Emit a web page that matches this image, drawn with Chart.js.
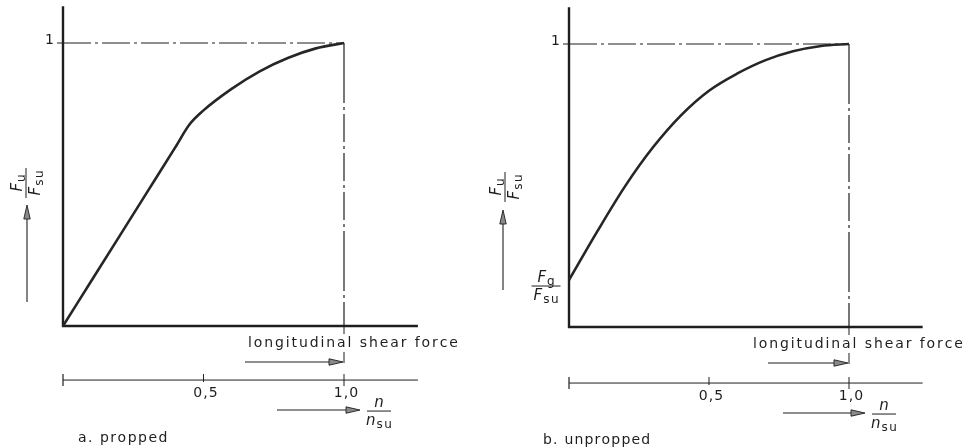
<!DOCTYPE html>
<html>
<head>
<meta charset="utf-8">
<script src="https://cdn.jsdelivr.net/npm/chart.js@4.4.1/dist/chart.umd.min.js"></script>
<style>
  html, body { margin: 0; padding: 0; background: #fff; }
  .panels { display: flex; width: 978px; height: 448px; }
  .panels canvas { display: block; }
</style>
</head>
<body>
<div class="panels">
  <canvas id="proppedChart" width="489" height="448"></canvas>
  <canvas id="unproppedChart" width="489" height="448"></canvas>
</div>
<script>
// Degree of shear connection n/nsu against relative moment resistance Fu/Fsu
const proppedX   = [0, 0.1, 0.2, 0.3, 0.4, 0.45, 0.5, 0.6, 0.7, 0.8, 0.9, 1.0];
const proppedY   = [0, 0.158, 0.316, 0.474, 0.632, 0.712, 0.762, 0.838, 0.9, 0.947, 0.981, 1.0];
const unproppedX = [0, 0.1, 0.2, 0.3, 0.4, 0.5, 0.6, 0.7, 0.8, 0.9, 1.0];
const unproppedY = [0.166, 0.336, 0.497, 0.635, 0.748, 0.835, 0.895, 0.942, 0.974, 0.993, 1.0];

// Lower scale for n/nsu
const shearTicks = [0.5, 1.0];
const shearTickLabels = ['0,5', '1,0'];
const yTickValue = 1;
const yTickLabel = '1';

const INK = '#1e1e1e';
const FONT = '"DejaVu Sans"';

// Where the origin and the unit point sit on each canvas
const panels = [
  {
    id: 'proppedChart', xs: proppedX, ys: proppedY, caption: 'a. propped',
    x0: 63, x1: 344, y0: 326, y1: 43,
    shearLevel: -0.191, captionDx: 15, captionY: 438, captionGap: 1.5,
    yLabelDx: -37, yLabelDy: -143, yArrowDx: -36, yArrowFrom: -24, yArrowTo: -121,
    upperArrowFrom: -99, lowerArrowFrom: -67, showFg: false
  },
  {
    id: 'unproppedChart', xs: unproppedX, ys: unproppedY, caption: 'b. unpropped',
    x0: 80, x1: 360, y0: 327, y1: 44,
    shearLevel: -0.198, captionDx: -26, captionY: 440, captionGap: 1.2,
    yLabelDx: -64, yLabelDy: -140, yArrowDx: -66, yArrowFrom: -37, yArrowTo: -117,
    upperArrowFrom: -81, lowerArrowFrom: -66, showFg: true
  }
];

function line(ctx, xa, ya, xb, yb, width, dash) {
  ctx.save();
  ctx.strokeStyle = INK;
  ctx.lineWidth = width;
  ctx.setLineDash(dash || []);
  ctx.beginPath();
  ctx.moveTo(xa, ya);
  ctx.lineTo(xb, yb);
  ctx.stroke();
  ctx.restore();
}

// Long slim arrow with a grey filled head
function arrow(ctx, xa, ya, xb, yb) {
  const ang = Math.atan2(yb - ya, xb - xa);
  const len = 14, half = 3.2;
  const bx = xb - Math.cos(ang) * len, by = yb - Math.sin(ang) * len;
  line(ctx, xa, ya, bx, by, 1.1);
  ctx.save();
  ctx.beginPath();
  ctx.moveTo(xb, yb);
  ctx.lineTo(bx + Math.sin(ang) * half, by - Math.cos(ang) * half);
  ctx.lineTo(bx - Math.sin(ang) * half, by + Math.cos(ang) * half);
  ctx.closePath();
  ctx.fillStyle = '#8a8a8a';
  ctx.fill();
  ctx.strokeStyle = INK;
  ctx.lineWidth = 0.9;
  ctx.stroke();
  ctx.restore();
}

// Width of a string drawn with extra space between letters
function spacedWidth(ctx, str, gap) {
  let w = 0;
  for (const ch of str) w += ctx.measureText(ch).width;
  return w + gap * (str.length - 1);
}

function spacedText(ctx, str, x, y, gap) {
  let cx = x;
  for (const ch of str) {
    ctx.fillText(ch, cx, y);
    cx += ctx.measureText(ch).width + gap;
  }
}

function text(ctx, str, x, y, size, align, gap, italic) {
  ctx.save();
  ctx.font = (italic ? 'italic ' : '') + size + 'px ' + FONT;
  ctx.fillStyle = INK;
  ctx.textAlign = 'left';
  ctx.textBaseline = 'middle';
  const w = spacedWidth(ctx, str, gap || 0);
  const left = align === 'center' ? x - w / 2 : align === 'right' ? x - w : x;
  spacedText(ctx, str, left, y, gap || 0);
  ctx.restore();
}

// Symbol with subscript, centred on cx, baseline at y
function subbed(ctx, main, sub, cx, y) {
  ctx.save();
  ctx.fillStyle = INK;
  ctx.textAlign = 'left';
  ctx.textBaseline = 'alphabetic';
  ctx.font = 'italic 15px ' + FONT;
  const wMain = ctx.measureText(main).width;
  ctx.font = '12px ' + FONT;
  const wSub = sub ? spacedWidth(ctx, sub, 1.5) + 1 : 0;
  const left = cx - (wMain + wSub) / 2;
  ctx.font = 'italic 15px ' + FONT;
  ctx.fillText(main, left, y);
  if (sub) {
    ctx.font = '12px ' + FONT;
    spacedText(ctx, sub, left + wMain + 1, y + 3, 1.5);
  }
  ctx.restore();
}

function fraction(ctx, cx, cy, top, topSub, bottom, bottomSub, barW) {
  subbed(ctx, top, topSub, cx, cy - 4);
  line(ctx, cx - barW / 2, cy, cx + barW / 2, cy, 1);
  subbed(ctx, bottom, bottomSub, cx, cy + 14);
}

const diagramPlugin = {
  id: 'diagram',
  beforeDatasetsDraw(chart) {
    const p = chart.options.plugins.diagram;
    const { ctx } = chart;
    const X = v => chart.scales.x.getPixelForValue(v);
    const Y = v => chart.scales.y.getPixelForValue(v);

    // main axes
    line(ctx, X(0), Y(0) + 1, X(0), Y(1.13), 2.4);
    line(ctx, X(0) - 1, Y(0), X(1.263), Y(0), 2.4);

    // limits at Fu/Fsu = 1 and n/nsu = 1
    line(ctx, X(0), Y(yTickValue), X(1), Y(yTickValue), 1, [28, 4, 3, 4]);
    line(ctx, X(1), Y(yTickValue), X(1), Y(0), 1.2, [60, 4, 3, 4, 28, 4, 3, 4, 28, 4, 3, 4, 28, 4, 3, 4]);
    line(ctx, X(1), Y(0), X(1), Y(0) + 37, 1, [8, 18, 12]);
    line(ctx, X(0) - 6, Y(yTickValue), X(0), Y(yTickValue), 1);

    // lower n/nsu scale
    const s = Y(p.shearLevel);
    line(ctx, X(0), s, X(1.263), s, 1);
    line(ctx, X(0), s - 6, X(0), s + 6, 1.2);
    shearTicks.forEach((t, i) => {
      line(ctx, X(t), s - 6, X(t), i === shearTicks.length - 1 ? s + 6 : s + 2, 1);
      text(ctx, shearTickLabels[i], X(t) + 2, s + 13, 14, 'center', 1);
    });
  },
  afterDatasetsDraw(chart) {
    const p = chart.options.plugins.diagram;
    const { ctx } = chart;
    const X = v => chart.scales.x.getPixelForValue(v);
    const Y = v => chart.scales.y.getPixelForValue(v);
    const s = Y(p.shearLevel);

    text(ctx, yTickLabel, X(0) - 9, Y(yTickValue) - 3, 14, 'right');

    text(ctx, 'longitudinal shear force', X(1) - 96, Y(0) + 17, 14, 'left', 1.9);
    arrow(ctx, X(1) + p.upperArrowFrom, Y(0) + 36, X(1) - 1, Y(0) + 36);

    arrow(ctx, X(1) + p.lowerArrowFrom, s + 30, X(1) + 16, s + 30);
    fraction(ctx, X(1) + 35, s + 31, 'n', '', 'n', 'su', 24);

    // vertical axis title, reading upwards
    ctx.save();
    ctx.translate(X(0) + p.yLabelDx, Y(0) + p.yLabelDy);
    ctx.rotate(-Math.PI / 2);
    fraction(ctx, 0, 0, 'F', 'u', 'F', 'su', 30);
    ctx.restore();
    arrow(ctx, X(0) + p.yArrowDx, Y(0) + p.yArrowFrom, X(0) + p.yArrowDx, Y(0) + p.yArrowTo);

    if (p.showFg) {
      fraction(ctx, X(0) - 23, Y(unproppedY[0]) + 6, 'F', 'g', 'F', 'su', 29);
    }

    text(ctx, p.caption, X(0) + p.captionDx, p.captionY, 14, 'left', p.captionGap);
  }
};

panels.forEach(p => {
  const canvas = document.getElementById(p.id);
  const W = canvas.width, H = canvas.height;
  const kx = p.x1 - p.x0, ky = p.y0 - p.y1;

  new Chart(canvas, {
    type: 'scatter',
    data: {
      datasets: [{
        data: p.xs.map((x, i) => ({ x, y: p.ys[i] })),
        showLine: true,
        borderColor: '#262626',
        borderWidth: 2.6,
        pointRadius: 0,
        cubicInterpolationMode: 'monotone',
        clip: false
      }]
    },
    options: {
      responsive: false,
      animation: false,
      devicePixelRatio: 1,
      layout: { padding: 0 },
      events: [],
      plugins: {
        legend: { display: false },
        tooltip: { enabled: false },
        diagram: p
      },
      scales: {
        x: { type: 'linear', display: false, min: -p.x0 / kx, max: (W - p.x0) / kx },
        y: { type: 'linear', display: false, min: -(H - p.y0) / ky, max: p.y0 / ky }
      }
    },
    plugins: [diagramPlugin]
  });
});
</script>
</body>
</html>
